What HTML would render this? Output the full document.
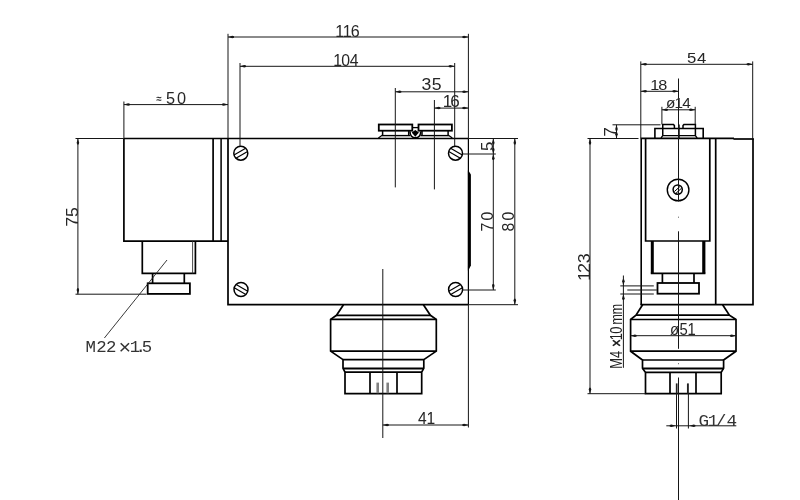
<!DOCTYPE html>
<html lang="en">
<head>
<meta charset="utf-8">
<title>Pressure switch dimensions</title>
<style>
html,body{margin:0;padding:0;background:#fff;}
body{width:800px;height:500px;overflow:hidden;}
svg{display:block;will-change:transform;}
text{font-family:"Liberation Sans",sans-serif;}
text.mono{font-family:"Liberation Mono",monospace;}
text.serif{font-family:"Liberation Serif",serif;}
</style>
</head>
<body>
<svg width="800" height="500" viewBox="0 0 800 500">
<rect x="0" y="0" width="800" height="500" fill="#ffffff"/>
<path d="M123.9,138.5 L468.4,138.5" fill="none" stroke="#000" stroke-width="1.7" stroke-linejoin="miter"/>
<path d="M123.9,138.5 L123.9,241.2 L228.0,241.2" fill="none" stroke="#000" stroke-width="1.7" stroke-linejoin="miter"/>
<line x1="213.1" y1="138.5" x2="213.1" y2="241.2" stroke="#000" stroke-width="1.7" stroke-linecap="butt"/>
<line x1="221.1" y1="138.5" x2="221.1" y2="241.2" stroke="#000" stroke-width="1.5" stroke-linecap="butt"/>
<path d="M228.0,138.5 L228.0,304.7 L468.4,304.7" fill="none" stroke="#000" stroke-width="1.7" stroke-linejoin="miter"/>
<line x1="468.4" y1="138.5" x2="468.4" y2="304.7" stroke="#000" stroke-width="1.2" stroke-linecap="butt"/>
<polygon points="468.4,170.5 470.9,174.5 470.9,265.5 468.4,270.5 467.9,270.5 467.9,170.5" fill="#000"/>
<path d="M142.3,241.2 L142.3,273.4 L195.4,273.4 L195.4,241.2" fill="none" stroke="#000" stroke-width="1.7" stroke-linejoin="miter"/>
<line x1="192.6" y1="241.2" x2="192.6" y2="273.4" stroke="#333" stroke-width="0.9" stroke-linecap="butt"/>
<path d="M152.6,273.4 L152.6,283.2" fill="none" stroke="#000" stroke-width="1.7" stroke-linejoin="miter"/>
<path d="M184.3,273.4 L184.3,283.2" fill="none" stroke="#000" stroke-width="1.7" stroke-linejoin="miter"/>
<rect x="147.7" y="283.3" width="42.2" height="10.6" fill="none" stroke="#000" stroke-width="1.8"/>
<circle cx="240.8" cy="153.2" r="7.0" fill="none" stroke="#000" stroke-width="1.5"/>
<line x1="234.02" y1="154.92" x2="245.68" y2="148.19" stroke="#000" stroke-width="1.15" stroke-linecap="butt"/>
<line x1="235.92" y1="158.21" x2="247.58" y2="151.48" stroke="#000" stroke-width="1.15" stroke-linecap="butt"/>
<circle cx="455.5" cy="153.2" r="7.0" fill="none" stroke="#000" stroke-width="1.5"/>
<line x1="450.62" y1="148.19" x2="462.28" y2="154.92" stroke="#000" stroke-width="1.15" stroke-linecap="butt"/>
<line x1="448.72" y1="151.48" x2="460.38" y2="158.21" stroke="#000" stroke-width="1.15" stroke-linecap="butt"/>
<circle cx="241" cy="289.5" r="7.0" fill="none" stroke="#000" stroke-width="1.5"/>
<line x1="236.12" y1="284.49" x2="247.78" y2="291.22" stroke="#000" stroke-width="1.15" stroke-linecap="butt"/>
<line x1="234.22" y1="287.78" x2="245.88" y2="294.51" stroke="#000" stroke-width="1.15" stroke-linecap="butt"/>
<circle cx="455.6" cy="289.5" r="7.0" fill="none" stroke="#000" stroke-width="1.5"/>
<line x1="448.82" y1="291.22" x2="460.48" y2="284.49" stroke="#000" stroke-width="1.15" stroke-linecap="butt"/>
<line x1="450.72" y1="294.51" x2="462.38" y2="287.78" stroke="#000" stroke-width="1.15" stroke-linecap="butt"/>
<rect x="378.8" y="124.5" width="33.5" height="6.2" fill="none" stroke="#000" stroke-width="1.8"/>
<rect x="418.5" y="124.5" width="33.4" height="6.2" fill="none" stroke="#000" stroke-width="1.8"/>
<path d="M382.6,130.7 L382.6,135.7" fill="none" stroke="#000" stroke-width="1.5" stroke-linejoin="miter"/>
<path d="M408.7,130.7 L408.7,135.7" fill="none" stroke="#000" stroke-width="1.5" stroke-linejoin="miter"/>
<path d="M422,130.7 L422,135.7" fill="none" stroke="#000" stroke-width="1.5" stroke-linejoin="miter"/>
<path d="M448.1,130.7 L448.1,135.7" fill="none" stroke="#000" stroke-width="1.5" stroke-linejoin="miter"/>
<line x1="381.9" y1="135.6" x2="410.4" y2="135.6" stroke="#000" stroke-width="1.4" stroke-linecap="butt"/>
<line x1="420.3" y1="135.6" x2="448.8" y2="135.6" stroke="#000" stroke-width="1.4" stroke-linecap="butt"/>
<path d="M382.2,135.2 L378.4,138.1" fill="none" stroke="#000" stroke-width="1.2" stroke-linejoin="miter"/>
<path d="M448.5,135.2 L452.3,138.1" fill="none" stroke="#000" stroke-width="1.2" stroke-linejoin="miter"/>
<path d="M410.0,131.4 C409.4,139.9 421.3,139.9 420.7,131.4" fill="none" stroke="#000" stroke-width="1.6"/>
<line x1="412.3" y1="127.6" x2="418.5" y2="127.6" stroke="#000" stroke-width="1.3" stroke-linecap="butt"/>
<polygon points="411.7,132.6 415.3,130.1 418.9,132.6 415.3,136.8" fill="#000"/>
<path d="M343.5,304.7 L336.5,315.3 L330.6,319.4 L330.6,351.1 L343,359.6 L343,368.2 L345,372.2 L345,393.6 L421.7,393.6 L421.7,372.2 L423.8,368.2 L423.8,359.6 L436.3,351.1 L436.3,319.4 L430.4,315.3 L423.4,304.7" fill="none" stroke="#000" stroke-width="1.7" stroke-linejoin="miter"/>
<line x1="336.5" y1="315.3" x2="430.4" y2="315.3" stroke="#000" stroke-width="1.7" stroke-linecap="butt"/>
<line x1="330.6" y1="319.4" x2="436.3" y2="319.4" stroke="#000" stroke-width="1.7" stroke-linecap="butt"/>
<line x1="330.6" y1="351.1" x2="436.3" y2="351.1" stroke="#000" stroke-width="1.7" stroke-linecap="butt"/>
<line x1="343" y1="359.6" x2="423.8" y2="359.6" stroke="#000" stroke-width="1.7" stroke-linecap="butt"/>
<line x1="343" y1="368.6" x2="423.8" y2="368.6" stroke="#000" stroke-width="2.0" stroke-linecap="butt"/>
<line x1="345" y1="372.2" x2="421.7" y2="372.2" stroke="#000" stroke-width="1.7" stroke-linecap="butt"/>
<line x1="370" y1="372.2" x2="370" y2="393.6" stroke="#000" stroke-width="1.7" stroke-linecap="butt"/>
<line x1="397" y1="372.2" x2="397" y2="393.6" stroke="#000" stroke-width="1.7" stroke-linecap="butt"/>
<line x1="377.7" y1="382.6" x2="377.7" y2="393.2" stroke="#808080" stroke-width="2.6" stroke-linecap="butt"/>
<line x1="387.7" y1="382.6" x2="387.7" y2="393.2" stroke="#808080" stroke-width="2.6" stroke-linecap="butt"/>
<line x1="382.8" y1="269" x2="382.8" y2="438" stroke="#161616" stroke-width="1.0" stroke-linecap="butt"/>
<line x1="395.3" y1="88" x2="395.3" y2="187.4" stroke="#161616" stroke-width="1.0" stroke-linecap="butt"/>
<line x1="434.4" y1="100" x2="434.4" y2="189.4" stroke="#161616" stroke-width="1.0" stroke-linecap="butt"/>
<line x1="228.0" y1="33.8" x2="228.0" y2="138.5" stroke="#161616" stroke-width="1.0" stroke-linecap="butt"/>
<line x1="468.4" y1="33.8" x2="468.4" y2="138.5" stroke="#161616" stroke-width="1.0" stroke-linecap="butt"/>
<line x1="228.0" y1="37" x2="468.4" y2="37" stroke="#161616" stroke-width="1.0" stroke-linecap="butt"/>
<polygon points="228.0,37 232.3,35.75 234.0,36.25 234.0,37.75 232.3,38.25" fill="#161616"/>
<polygon points="468.4,37 464.1,35.75 462.4,36.25 462.4,37.75 464.1,38.25" fill="#161616"/>
<line x1="240" y1="63" x2="240" y2="146" stroke="#161616" stroke-width="1.0" stroke-linecap="butt"/>
<line x1="454.7" y1="63" x2="454.7" y2="146" stroke="#161616" stroke-width="1.0" stroke-linecap="butt"/>
<line x1="240" y1="66.3" x2="454.7" y2="66.3" stroke="#161616" stroke-width="1.0" stroke-linecap="butt"/>
<polygon points="240,66.3 244.3,65.05 246.0,65.55 246.0,67.05 244.3,67.55" fill="#161616"/>
<polygon points="454.7,66.3 450.4,65.05 448.7,65.55 448.7,67.05 450.4,67.55" fill="#161616"/>
<line x1="395.3" y1="91.8" x2="468.4" y2="91.8" stroke="#161616" stroke-width="1.0" stroke-linecap="butt"/>
<polygon points="395.3,91.8 399.6,90.55 401.3,91.05 401.3,92.55 399.6,93.05" fill="#161616"/>
<polygon points="468.4,91.8 464.1,90.55 462.4,91.05 462.4,92.55 464.1,93.05" fill="#161616"/>
<line x1="434.4" y1="108.1" x2="468.4" y2="108.1" stroke="#161616" stroke-width="1.0" stroke-linecap="butt"/>
<polygon points="434.4,108.1 438.7,106.85 440.4,107.35 440.4,108.85 438.7,109.35" fill="#161616"/>
<polygon points="468.4,108.1 464.1,106.85 462.4,107.35 462.4,108.85 464.1,109.35" fill="#161616"/>
<line x1="123.9" y1="101.5" x2="123.9" y2="138.5" stroke="#161616" stroke-width="1.0" stroke-linecap="butt"/>
<line x1="123.9" y1="104.6" x2="228.0" y2="104.6" stroke="#161616" stroke-width="1.0" stroke-linecap="butt"/>
<polygon points="123.9,104.6 128.2,103.35 129.9,103.85 129.9,105.35 128.2,105.85" fill="#161616"/>
<polygon points="228.0,104.6 223.7,103.35 222.0,103.85 222.0,105.35 223.7,105.85" fill="#161616"/>
<line x1="75.5" y1="138.5" x2="123.9" y2="138.5" stroke="#161616" stroke-width="1.0" stroke-linecap="butt"/>
<line x1="75.5" y1="294.2" x2="146.5" y2="294.2" stroke="#161616" stroke-width="1.0" stroke-linecap="butt"/>
<line x1="77.9" y1="138.5" x2="77.9" y2="294.2" stroke="#161616" stroke-width="1.0" stroke-linecap="butt"/>
<polygon points="77.9,138.5 76.65,142.8 77.15,144.5 78.65,144.5 79.15,142.8" fill="#161616"/>
<polygon points="77.9,294.2 76.65,289.9 77.15,288.2 78.65,288.2 79.15,289.9" fill="#161616"/>
<line x1="167" y1="260" x2="104.4" y2="338" stroke="#222" stroke-width="0.9" stroke-linecap="butt"/>
<line x1="468.4" y1="138.5" x2="518" y2="138.5" stroke="#161616" stroke-width="1.0" stroke-linecap="butt"/>
<line x1="468.4" y1="304.7" x2="518" y2="304.7" stroke="#161616" stroke-width="1.0" stroke-linecap="butt"/>
<line x1="514.8" y1="138.5" x2="514.8" y2="304.7" stroke="#161616" stroke-width="1.0" stroke-linecap="butt"/>
<polygon points="514.8,138.5 513.55,142.8 514.05,144.5 515.55,144.5 516.05,142.8" fill="#161616"/>
<polygon points="514.8,304.7 513.55,300.4 514.05,298.7 515.55,298.7 516.05,300.4" fill="#161616"/>
<line x1="462.8" y1="154" x2="495.8" y2="154" stroke="#161616" stroke-width="1.0" stroke-linecap="butt"/>
<line x1="462.8" y1="290" x2="495.8" y2="290" stroke="#161616" stroke-width="1.0" stroke-linecap="butt"/>
<line x1="493.3" y1="138.5" x2="493.3" y2="290" stroke="#161616" stroke-width="1.0" stroke-linecap="butt"/>
<polygon points="493.3,138.5 492.05,142.8 492.55,144.5 494.05,144.5 494.55,142.8" fill="#161616"/>
<polygon points="493.3,154 492.05,149.7 492.55,148.0 494.05,148.0 494.55,149.7" fill="#161616"/>
<polygon points="493.3,154 492.05,158.3 492.55,160.0 494.05,160.0 494.55,158.3" fill="#161616"/>
<polygon points="493.3,290 492.05,285.7 492.55,284.0 494.05,284.0 494.55,285.7" fill="#161616"/>
<line x1="468.4" y1="304.7" x2="468.4" y2="427.5" stroke="#161616" stroke-width="1.0" stroke-linecap="butt"/>
<line x1="382.8" y1="425" x2="468.4" y2="425" stroke="#161616" stroke-width="1.0" stroke-linecap="butt"/>
<polygon points="382.8,425 387.1,423.75 388.8,424.25 388.8,425.75 387.1,426.25" fill="#161616"/>
<polygon points="468.4,425 464.1,423.75 462.4,424.25 462.4,425.75 464.1,426.25" fill="#161616"/>
<line x1="640.6" y1="138.3" x2="734" y2="138.3" stroke="#000" stroke-width="1.7" stroke-linecap="butt"/>
<line x1="733.5" y1="139.0" x2="753.8" y2="139.0" stroke="#000" stroke-width="1.7" stroke-linecap="butt"/>
<line x1="641.2" y1="138.5" x2="641.2" y2="304.7" stroke="#000" stroke-width="1.6" stroke-linecap="butt"/>
<path d="M640.4000000000001,304.7 L753.0,304.7 L753.0,138.5" fill="none" stroke="#000" stroke-width="1.7" stroke-linejoin="miter"/>
<path d="M645.6,138.5 L645.6,241 L709.8,241 L709.8,138.5" fill="none" stroke="#000" stroke-width="1.7" stroke-linejoin="miter"/>
<line x1="715.7" y1="138.5" x2="715.7" y2="304.7" stroke="#000" stroke-width="1.7" stroke-linecap="butt"/>
<line x1="652.3" y1="241" x2="652.3" y2="273.4" stroke="#000" stroke-width="3.0" stroke-linecap="butt"/>
<line x1="703.8" y1="241" x2="703.8" y2="273.4" stroke="#000" stroke-width="3.2" stroke-linecap="butt"/>
<line x1="650.8" y1="273.3" x2="705.4" y2="273.3" stroke="#000" stroke-width="1.7" stroke-linecap="butt"/>
<path d="M662.4,273.3 L662.4,283.0" fill="none" stroke="#000" stroke-width="1.7" stroke-linejoin="miter"/>
<path d="M694.0,273.3 L694.0,283.0" fill="none" stroke="#000" stroke-width="1.7" stroke-linejoin="miter"/>
<rect x="657.5" y="283.0" width="41.5" height="10.7" fill="none" stroke="#000" stroke-width="1.8"/>
<path d="M654.9,138.5 L654.9,128.5 L703.2,128.5 L703.2,138.5" fill="none" stroke="#000" stroke-width="1.6" stroke-linejoin="miter"/>
<path d="M662.75,135.6 L662.75,124.6 L673.5,124.6 L674.4,125.5 L674.4,128.5" fill="none" stroke="#000" stroke-width="1.5" stroke-linejoin="miter"/>
<path d="M695.4,135.6 L695.4,124.6 L683.9,124.6 L683.0,125.5 L683.0,128.5" fill="none" stroke="#000" stroke-width="1.5" stroke-linejoin="miter"/>
<path d="M661.0,138.0 L662.75,135.6 L695.4,135.6 L697.15,138.0" fill="none" stroke="#000" stroke-width="1.3" stroke-linejoin="miter"/>
<line x1="678.9" y1="124.4" x2="678.9" y2="138.5" stroke="#000" stroke-width="1.6" stroke-linecap="butt"/>
<circle cx="678.1" cy="190" r="10.8" fill="none" stroke="#000" stroke-width="1.4"/>
<circle cx="677.7" cy="189.6" r="4.6" fill="none" stroke="#000" stroke-width="1.5"/>
<line x1="674.3" y1="191.6" x2="680.2" y2="186.3" stroke="#000" stroke-width="1.0" stroke-linecap="butt"/>
<line x1="675.6" y1="193.6" x2="681.6" y2="188.2" stroke="#000" stroke-width="1.0" stroke-linecap="butt"/>
<path d="M642.6,304.7 L636,315.2 L630.6,319.5 L630.6,351.2 L642.5,360 L642.5,368.2 L645.5,372.4 L645.5,393.7 L721.2,393.7 L721.2,372.4 L723.6,368.2 L723.6,360 L736.0,351.2 L736.0,319.5 L729.4,315.2 L722.6,304.7" fill="none" stroke="#000" stroke-width="1.7" stroke-linejoin="miter"/>
<line x1="636" y1="315.2" x2="729.4" y2="315.2" stroke="#000" stroke-width="1.7" stroke-linecap="butt"/>
<line x1="630.6" y1="319.5" x2="736.0" y2="319.5" stroke="#000" stroke-width="1.7" stroke-linecap="butt"/>
<line x1="630.6" y1="351.2" x2="736.0" y2="351.2" stroke="#000" stroke-width="1.7" stroke-linecap="butt"/>
<line x1="642.5" y1="360" x2="723.6" y2="360" stroke="#000" stroke-width="1.7" stroke-linecap="butt"/>
<line x1="642.5" y1="368.6" x2="723.6" y2="368.6" stroke="#000" stroke-width="2.0" stroke-linecap="butt"/>
<line x1="645.5" y1="372.4" x2="721.2" y2="372.4" stroke="#000" stroke-width="1.7" stroke-linecap="butt"/>
<line x1="670" y1="372.4" x2="670" y2="393.7" stroke="#000" stroke-width="1.7" stroke-linecap="butt"/>
<line x1="696.0" y1="372.4" x2="696.0" y2="393.7" stroke="#000" stroke-width="1.7" stroke-linecap="butt"/>
<line x1="678.5" y1="78.5" x2="678.5" y2="201.5" stroke="#161616" stroke-width="1.0" stroke-linecap="butt"/>
<line x1="678.5" y1="231.3" x2="678.5" y2="348.8" stroke="#161616" stroke-width="1.0" stroke-linecap="butt"/>
<line x1="678.5" y1="377.5" x2="678.5" y2="500" stroke="#161616" stroke-width="1.0" stroke-linecap="butt"/>
<line x1="678.3" y1="217.2" x2="679" y2="217.2" stroke="#161616" stroke-width="1.0" stroke-linecap="butt"/>
<line x1="678.3" y1="363.7" x2="679" y2="363.7" stroke="#161616" stroke-width="1.0" stroke-linecap="butt"/>
<line x1="676.7" y1="383.4" x2="676.7" y2="393.7" stroke="#222" stroke-width="1.7" stroke-linecap="butt"/>
<line x1="687.9" y1="383.4" x2="687.9" y2="393.7" stroke="#222" stroke-width="1.9" stroke-linecap="butt"/>
<line x1="676.5" y1="393.7" x2="676.5" y2="428.5" stroke="#161616" stroke-width="1.0" stroke-linecap="butt"/>
<line x1="688.4" y1="393.7" x2="688.4" y2="428.5" stroke="#161616" stroke-width="1.0" stroke-linecap="butt"/>
<line x1="666.3" y1="425.8" x2="736.3" y2="425.8" stroke="#161616" stroke-width="1.0" stroke-linecap="butt"/>
<polygon points="675.7,425.8 671.4,424.55 669.7,425.05 669.7,426.55 671.4,427.05" fill="#161616"/>
<polygon points="689.4,425.8 693.7,424.55 695.4,425.05 695.4,426.55 693.7,427.05" fill="#161616"/>
<line x1="640.8" y1="61.4" x2="640.8" y2="138.5" stroke="#161616" stroke-width="1.0" stroke-linecap="butt"/>
<line x1="752.7" y1="61.4" x2="752.7" y2="138.5" stroke="#161616" stroke-width="1.0" stroke-linecap="butt"/>
<line x1="640.8" y1="64.3" x2="752.7" y2="64.3" stroke="#161616" stroke-width="1.0" stroke-linecap="butt"/>
<polygon points="640.8,64.3 645.1,63.05 646.8,63.55 646.8,65.05 645.1,65.55" fill="#161616"/>
<polygon points="752.7,64.3 748.4,63.05 746.7,63.55 746.7,65.05 748.4,65.55" fill="#161616"/>
<line x1="640.8" y1="91.3" x2="678.5" y2="91.3" stroke="#161616" stroke-width="1.0" stroke-linecap="butt"/>
<polygon points="640.8,91.3 645.1,90.05 646.8,90.55 646.8,92.05 645.1,92.55" fill="#161616"/>
<polygon points="678.5,91.3 674.2,90.05 672.5,90.55 672.5,92.05 674.2,92.55" fill="#161616"/>
<line x1="661.9" y1="106.8" x2="661.9" y2="124.5" stroke="#161616" stroke-width="1.0" stroke-linecap="butt"/>
<line x1="695.2" y1="106.8" x2="695.2" y2="124.5" stroke="#161616" stroke-width="1.0" stroke-linecap="butt"/>
<line x1="661.9" y1="109.8" x2="695.2" y2="109.8" stroke="#161616" stroke-width="1.0" stroke-linecap="butt"/>
<polygon points="661.9,109.8 666.2,108.55 667.9,109.05 667.9,110.55 666.2,111.05" fill="#161616"/>
<polygon points="695.2,109.8 690.9,108.55 689.2,109.05 689.2,110.55 690.9,111.05" fill="#161616"/>
<line x1="612.5" y1="124.8" x2="660.5" y2="124.8" stroke="#161616" stroke-width="1.0" stroke-linecap="butt"/>
<line x1="587.5" y1="138.5" x2="638.5" y2="138.5" stroke="#161616" stroke-width="1.0" stroke-linecap="butt"/>
<line x1="616.5" y1="124.8" x2="616.5" y2="138.5" stroke="#161616" stroke-width="1.0" stroke-linecap="butt"/>
<polygon points="616.5,124.8 615.25,129.1 615.75,130.8 617.25,130.8 617.75,129.1" fill="#161616"/>
<polygon points="616.5,138.5 615.25,134.2 615.75,132.5 617.25,132.5 617.75,134.2" fill="#161616"/>
<line x1="587.5" y1="393.7" x2="645.5" y2="393.7" stroke="#161616" stroke-width="1.0" stroke-linecap="butt"/>
<line x1="590" y1="138.5" x2="590" y2="393.7" stroke="#161616" stroke-width="1.0" stroke-linecap="butt"/>
<polygon points="590,138.5 588.75,142.8 589.25,144.5 590.75,144.5 591.25,142.8" fill="#161616"/>
<polygon points="590,393.7 588.75,389.4 589.25,387.7 590.75,387.7 591.25,389.4" fill="#161616"/>
<line x1="630.6" y1="335.7" x2="736.0" y2="335.7" stroke="#161616" stroke-width="1.0" stroke-linecap="butt"/>
<polygon points="630.6,335.7 634.9,334.45 636.6,334.95 636.6,336.45 634.9,336.95" fill="#161616"/>
<polygon points="736.0,335.7 731.7,334.45 730.0,334.95 730.0,336.45 731.7,336.95" fill="#161616"/>
<line x1="620.3" y1="285.9" x2="653.8" y2="285.9" stroke="#161616" stroke-width="1.0" stroke-linecap="butt"/>
<line x1="627.3" y1="290" x2="656.8" y2="290" stroke="#161616" stroke-width="1.0" stroke-linecap="butt"/>
<line x1="620.3" y1="294" x2="653.8" y2="294" stroke="#161616" stroke-width="1.0" stroke-linecap="butt"/>
<line x1="623.4" y1="275.5" x2="623.4" y2="367.8" stroke="#161616" stroke-width="1.0" stroke-linecap="butt"/>
<polygon points="623.4,285.6 622.15,281.3 622.65,279.6 624.15,279.6 624.65,281.3" fill="#161616"/>
<polygon points="623.4,294 622.15,298.3 622.65,300.0 624.15,300.0 624.65,298.3" fill="#161616"/>
<text x="335.30 342.80 350.70" y="36.5" font-size="16.06" fill="#262626">116</text>
<text x="333.32 341.17 349.65" y="65.5" font-size="15.77" fill="#262626">104</text>
<text x="376.37 385.53" y="90" font-size="15.77" fill="#262626" transform="scale(1.12 1)">35</text>
<text x="409.93 416.80" y="107.2" font-size="15.77" fill="#262626" transform="scale(1.08 1)">16</text>
<text font-size="16.3" fill="#262626"><tspan x="156.3" y="102.3" font-size="9.6" font-weight="bold">≈</tspan><tspan x="161.5" y="103.6"> </tspan><tspan x="165.95 176.9" y="103.6">50</tspan></text>
<text x="418.05 426.43" y="424" font-size="15.63" fill="#262626">41</text>
<text class="mono" x="80.58 90.83 99.98 106 111.7 122.3 127.75 133.8" y="351.8" font-size="16.42" fill="#333" transform="scale(1.06 1)">M22 <tspan font-size="20" dy="2.1">×</tspan><tspan dy="-2.1">1.5</tspan></text>
<text x="624.48 633.66" y="63.2" font-size="15.2" fill="#262626" transform="scale(1.1 1)">54</text>
<text x="602.20 609.45" y="90.1" font-size="15.05" fill="#262626" transform="scale(1.08 1)">18</text>
<text x="634.24 642.33 649.86" y="108" font-size="14.62" fill="#262626" transform="scale(1.05 1)">ø14</text>
<text x="705.33 715.27 723.67" y="335.3" font-size="15.63" fill="#262626" transform="scale(0.95 1)">ø51</text>
<text x="671.56 680.50 688.25 698.67" y="425.6" font-size="17.01" class="mono" fill="#333" transform="scale(1.04 1)">G1/4</text>
<text x="-209.93 -200.84" y="0" font-size="16.34" fill="#262626" transform="translate(77.5 0) rotate(-90) scale(1.08 1)">75</text>
<text x="-143.88" y="0" font-size="16.06" fill="#262626" transform="translate(492.8 0) rotate(-90) scale(1.05 1)">5</text>
<text x="-238.74 -227.35" y="0" font-size="16.34" fill="#262626" transform="translate(492.8 0) rotate(-90) scale(0.97 1)">70</text>
<text x="-238.74 -227.35" y="0" font-size="16.34" fill="#262626" transform="translate(514.4 0) rotate(-90) scale(0.97 1)">80</text>
<text x="-130.19" y="0" font-size="16.34" fill="#262626" transform="translate(615.8 0) rotate(-90) scale(1.05 1)">7</text>
<text x="-255.41 -248.27 -239.34" y="0" font-size="16.34" fill="#262626" transform="translate(589.6 0) rotate(-90) scale(1.1 1)">123</text>
<text x="-461.07 -447.61 -440.49 -433.37 -425.45 -417.14 -405.83 -393.08" y="0" font-size="16.06" fill="#222" transform="translate(622.4 0) rotate(-90) scale(0.8 1)">M4 <tspan font-weight="bold">×</tspan>10mm</text>
</svg>
</body>
</html>
